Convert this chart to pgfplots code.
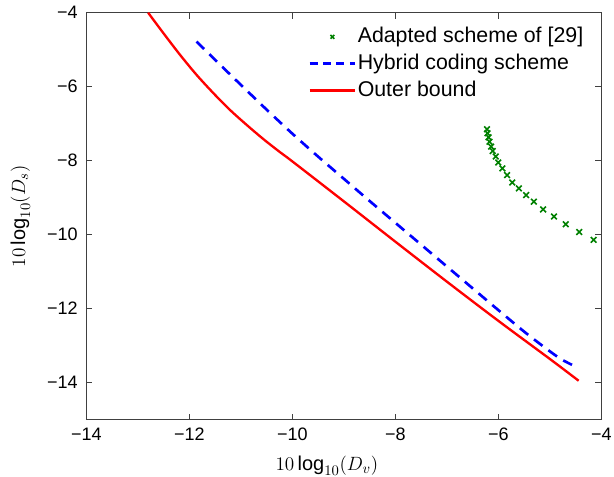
\documentclass[border=0pt]{standalone}
\usepackage{fontspec}
\setmainfont{Liberation Sans}
\usepackage{pgfplots}
\pgfplotsset{compat=1.18}
\definecolor{mgreen}{rgb}{0,0.5,0}
\pgfplotsset{
  markleg/.style={legend image code/.code={\draw[mark repeat=2,mark phase=2,##1,mark size=2pt] plot coordinates {(0pt,0pt) (17pt,0pt) (34pt,0pt)};}},
  dashleg/.style={legend image code/.code={\draw[##1, dash pattern=on 6pt off 4pt] plot coordinates {(0pt,0pt) (34pt,0pt)};}},
  lineleg/.style={legend image code/.code={\draw[##1] plot coordinates {(0pt,0pt) (34pt,0pt)};}},
}
\begin{document}
\begin{tikzpicture}
\begin{axis}[
  width=386pt, height=305pt, scale only axis,
  xmin=-14, xmax=-4, ymin=-15, ymax=-4,
  xtick={-14,-12,-10,-8,-6,-4}, ytick={-14,-12,-10,-8,-6,-4},
  xticklabels={−14,−12,−10,−8,−6,−4},
  yticklabels={−14,−12,−10,−8,−6,−4},
  tick align=inside, major tick length=4.5pt,
  axis line style={black!75, line width=0.8pt},
  every tick/.style={black!75, line width=0.8pt},
  tick label style={font=\fontsize{13.5}{15}\selectfont},
  xticklabel style={yshift=-3pt},
  yticklabel style={xshift=-3pt},
  xlabel={$10\log_{10}(D_v)$}, ylabel={$10\log_{10}(D_s)$},
  label style={font=\fontsize{15}{17}\selectfont},
  xlabel style={at={(axis description cs:0.467,-0.113)}, anchor=center},
  ylabel style={at={(axis description cs:-0.128,0.5)}, anchor=center},
  legend cell align=left,
  legend style={at={(0.968,0.970)}, anchor=north east, draw=none, fill=none,
    font=\fontsize{16}{19}\selectfont, row sep=2.6pt, inner sep=0pt,
    nodes={inner sep=1pt, text height=12pt, text depth=3.5pt}},
]
\addplot[only marks, mark=x, mark size=3pt, color=mgreen, mark options={line width=1.2pt}, markleg]
coordinates {
(-6.22,-7.15) (-6.21,-7.26) (-6.19,-7.37) (-6.17,-7.49) (-6.14,-7.62)
(-6.11,-7.74) (-6.05,-7.89) (-6.00,-8.05) (-5.92,-8.21) (-5.83,-8.39)
(-5.73,-8.59) (-5.60,-8.75) (-5.46,-8.93) (-5.31,-9.11) (-5.13,-9.32)
(-4.92,-9.51) (-4.69,-9.72) (-4.43,-9.93) (-4.15,-10.14)
};
\addlegendentry{Adapted scheme of [29]}
\addplot[color=blue, line width=2pt, dash pattern=on 8pt off 5.5pt, smooth, dashleg]
coordinates {
(-11.86,-4.78) (-11.40,-5.41) (-11.00,-5.95) (-10.50,-6.62) (-10.00,-7.27)
(-9.50,-7.89) (-9.00,-8.49) (-8.50,-9.09) (-8.00,-9.68) (-7.50,-10.27)
(-7.00,-10.86) (-6.50,-11.45) (-6.00,-12.04) (-5.50,-12.62) (-5.10,-13.05)
(-4.80,-13.35) (-4.57,-13.52)
};
\addlegendentry{Hybrid coding scheme}
\addplot[color=red, line width=1.75pt, smooth, lineleg]
coordinates {
(-12.80,-4.00) (-12.50,-4.56) (-12.18,-5.14) (-11.86,-5.68) (-11.53,-6.18)
(-11.21,-6.63) (-10.89,-7.03) (-10.56,-7.42) (-10.24,-7.77) (-10.00,-8.02)
(-9.00,-9.10) (-8.00,-10.19) (-7.00,-11.27) (-6.00,-12.33) (-5.00,-13.36)
(-4.44,-13.95)
};
\addlegendentry{Outer bound}
\end{axis}
\pgfresetboundingbox
\path ([shift={(-64.7pt,-43pt)}]current axis.south west) rectangle ([shift={(9.5pt,9.5pt)}]current axis.north east);
\end{tikzpicture}
\end{document}
